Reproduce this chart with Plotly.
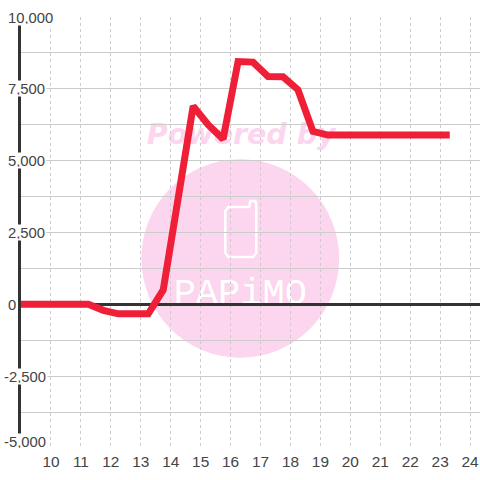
import plotly.graph_objects as go

hours = [8.9, 9.25, 10.25, 11.25, 11.75, 12.25, 12.75, 13.25, 13.75, 14.25, 14.75, 15.25, 15.75,
         16.25, 16.75, 17.25, 17.75, 18.25, 18.75, 19.25, 20.25, 21.25, 22.25, 23.32]
values = [0, 0, 0, 0, -210, -330, -330, -330, 500, 3700, 6900, 6250, 5750,
          8450, 8430, 7930, 7920, 7470, 6020, 5890, 5890, 5890, 5890, 5890]
x_ticks = list(range(10, 25))
y_ticks = [10000, 7500, 5000, 2500, 0, -2500, -5000]
y_labels = ["10,000", "7,500", "5,000", "2,500", "0", "-2,500", "-5,000"]

W, H = 480, 480
L, R, T, B = 20.5, 0, 16.5, 31.5
PW, PH = W - L - R, H - T - B
def px(x): return (x - L) / PW
def py(y): return 1 - (y - T) / PH

TEXT = "#444444"
PINK = "#fbd6ee"

fig = go.Figure()
fig.add_trace(go.Scatter(x=hours, y=values, mode="lines", cliponaxis=False,
                         line=dict(color="#f01f38", width=7), hoverinfo="skip", showlegend=False))

shapes = [
    dict(type="circle", xref="paper", yref="paper", x0=px(141), x1=px(339), y0=py(358), y1=py(159),
         fillcolor=PINK, line_width=0, layer="below"),
    dict(type="path", xref="paper", yref="paper", layer="below", line=dict(color="white", width=2.5),
         path=(f"M {px(228)} {py(207)} L {px(249)} {py(207)} L {px(250)} {py(201)} L {px(255)} {py(201)} "
               f"L {px(256)} {py(204)} L {px(256)} {py(253)} L {px(253)} {py(257)} L {px(228)} {py(257)} "
               f"L {px(225)} {py(253)} L {px(225)} {py(211)} Z")),
    dict(type="rect", xref="paper", yref="paper", layer="below", x0=px(140), x1=px(340), y0=py(266), y1=py(310),
         line_width=0, fillcolor="rgba(0,0,0,0)",
         label=dict(text="PAPiMO", textposition="middle center",
                    font=dict(family="Liberation Mono", size=37, color="white"))),
    dict(type="rect", xref="paper", yref="paper", layer="below", x0=px(121), x1=px(361), y0=py(115), y1=py(149),
         line_width=0, fillcolor="rgba(0,0,0,0)",
         label=dict(text="<b><i>Powered by</i></b>", textposition="middle center",
                    font=dict(family="DejaVu Sans", size=28.5, color=PINK))),
]

annotations = []
for v, lab in zip(y_ticks, y_labels):
    left = 1 if v < 0 else 5
    annotations.append(dict(xref="paper", yref="y", x=px(left), y=v, xanchor="left", yanchor="middle",
                            yshift=6.5 if v == min(y_ticks) else 0,
                            text=lab, showarrow=False, bgcolor="white", borderpad=1, height=13,
                            font=dict(family="Liberation Sans", size=14.8, color=TEXT)))

fig.update_layout(
    width=W, height=H, autosize=False,
    margin=dict(l=L, r=R, t=T, b=B, pad=0),
    paper_bgcolor="white", plot_bgcolor="white",
    showlegend=False, shapes=shapes, annotations=annotations,
    font=dict(family="Liberation Sans", size=15.4, color=TEXT),
    xaxis=dict(range=[9, 24.33], tickmode="array", tickvals=x_ticks, ticks="", showline=False,
               showgrid=True, gridcolor="#cccccc", gridwidth=1, griddash="3px,3px", zeroline=False,
               ticklabelstandoff=3,
               tickfont=dict(family="Liberation Sans", size=15.4, color=TEXT)),
    yaxis=dict(range=[-5000, 10000], tick0=0, dtick=1250, showticklabels=False, ticks="",
               showgrid=True, gridcolor="#cccccc", gridwidth=1,
               zeroline=True, zerolinecolor="#333333", zerolinewidth=3,
               showline=True, linecolor="#333333", linewidth=3, layer="below traces"),
)
fig.write_html("out.html", config=dict(displayModeBar=False),
               post_script="document.body.style.margin='0';document.documentElement.style.overflow='hidden';")
